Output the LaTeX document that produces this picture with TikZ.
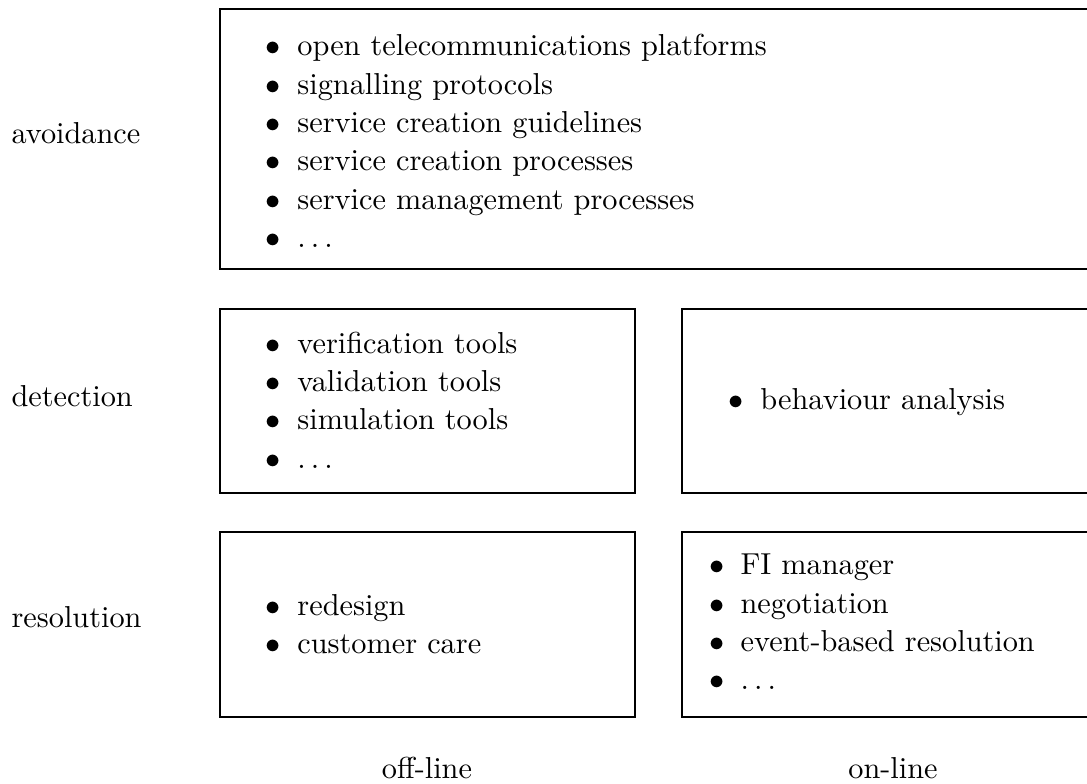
\documentclass[tikz,border=0pt]{standalone}
\newcommand\itm{\makebox[10.4pt][l]{$\bullet$}}
\newcommand\mydots{$\ldots$}
\begin{document}
\begin{tikzpicture}[x=0.33pt,y=-0.33pt,
  box/.style={draw, line width=0.9pt},
  lst/.style={anchor=west, align=left, inner sep=0pt, font=\fontsize{10}{12.67}\selectfont},
  lbl/.style={inner sep=0pt, font=\fontsize{10}{12}\selectfont}]
\useasboundingbox (0,0) rectangle (1087,784);
\clip (0,0) rectangle (1087,784);
% boxes
\draw[box] (220,9) rectangle (1100,269);
\draw[box] (220,309) rectangle (635,493);
\draw[box] (682,309) rectangle (1100,493);
\draw[box] (220,532) rectangle (635,717);
\draw[box] (682,532) rectangle (1100,717);
% lists
\node[lst] (avl) at (265.3,141) {\itm open telecommunications platforms\\
  \itm signalling protocols\\
  \itm service creation guidelines\\
  \itm service creation processes\\
  \itm service management processes\\
  \itm \mydots};
\node[lst] (detoff) at (265.3,400) {\itm verification tools\\
  \itm validation tools\\
  \itm simulation tools\\
  \itm \mydots};
\node[lst] (deton) at (728.3,402) {\itm behaviour analysis};
\node[lst] (resoff) at (265.3,624) {\itm redesign\\
  \itm customer care};
\node[lst] (reson) at (708.5,622) {\itm FI manager\\
  \itm negotiation\\
  \itm event-based resolution\\
  \itm \mydots};
% row labels
\node[lbl, anchor=base west] (avoid) at (11,144) {avoidance};
\node[lbl, anchor=base west] (detect) at (11,407) {detection};
\node[lbl, anchor=base west] (resol) at (11,628) {resolution};
% column labels
\node[lbl, anchor=base] (offl) at (427,778) {off-line};
\node[lbl, anchor=base] (onl) at (893,778) {on-line};
\end{tikzpicture}
\end{document}
